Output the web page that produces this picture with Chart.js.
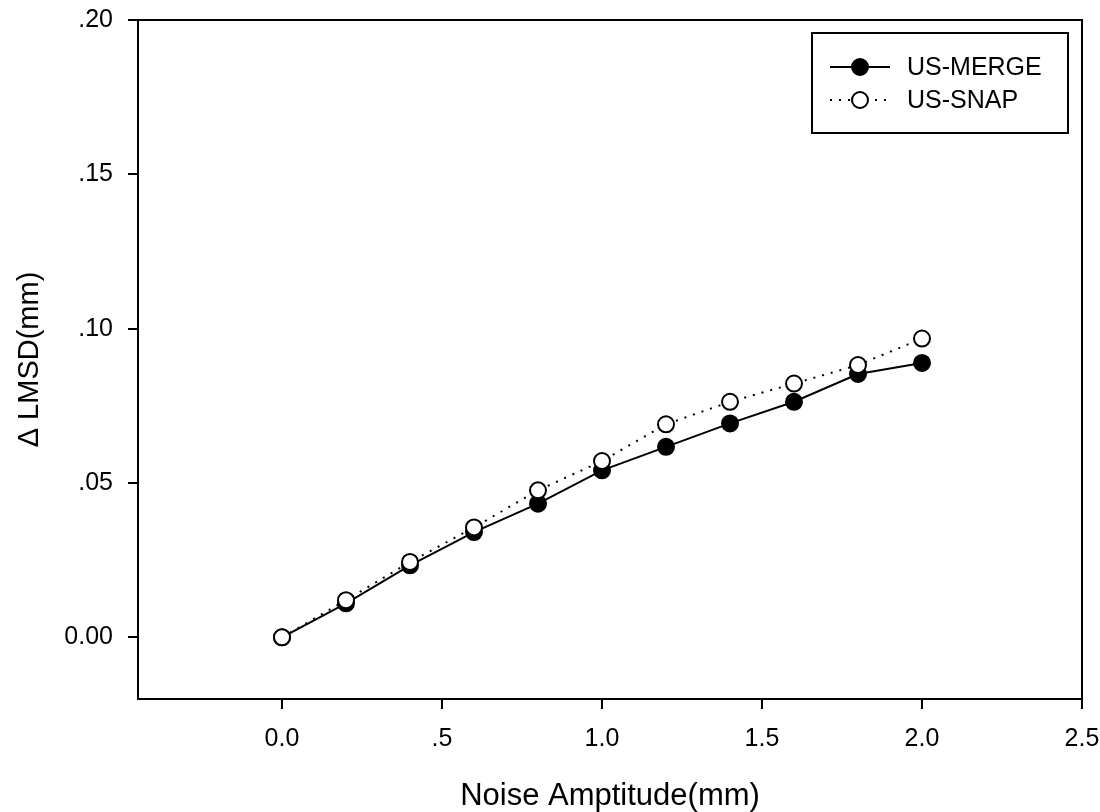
<!DOCTYPE html>
<html>
<head>
<meta charset="utf-8">
<script src="https://cdn.jsdelivr.net/npm/chart.js@4"></script>
<style>
  body { margin: 0; background: #fff; }
</style>
</head>
<body>
<canvas id="chart" width="1100" height="812"></canvas>
<script>
const noise = [0, 0.2, 0.4, 0.6, 0.8, 1.0, 1.2, 1.4, 1.6, 1.8, 2.0]
const usMerge = [0, 0.011, 0.0233, 0.0341, 0.0433, 0.0541, 0.0617, 0.0693, 0.0763, 0.0853, 0.0889]
const usSnap = [0, 0.012, 0.0244, 0.0356, 0.0476, 0.0571, 0.069, 0.0763, 0.0822, 0.0882, 0.0968]

const xTickVals = [0, 0.5, 1.0, 1.5, 2.0, 2.5]
const xTickLabels = ['0.0', '.5', '1.0', '1.5', '2.0', '2.5']
const yTickVals = [0, 0.05, 0.10, 0.15, 0.20]
const yTickLabels = ['0.00', '.05', '.10', '.15', '.20']

const FONT = 'Liberation Sans, Arial, sans-serif'
let ctx = document.getElementById('chart')

function pts(ys) {
    return noise.map((x, i) => ({ x: x, y: ys[i] }))
}

// box around the plot area plus the legend box
const framePlugin = {
    id: 'frame',
    afterDatasetsDraw(chart) {
        const c = chart.ctx
        const a = chart.chartArea
        c.save()
        c.strokeStyle = '#000'
        c.lineWidth = 2
        c.strokeRect(a.left, a.top, a.right - a.left, a.bottom - a.top)

        // legend
        c.strokeRect(812, 33, 256, 100)
        const rows = [67, 100]
        const order = [1, 0]
        order.forEach((di, r) => {
            const ds = chart.data.datasets[di]
            const y = rows[r]
            c.beginPath()
            c.setLineDash(ds.borderDash || [])
            c.lineWidth = ds.borderWidth
            c.moveTo(830, y)
            c.lineTo(890, y)
            c.stroke()
            c.setLineDash([])
            c.beginPath()
            c.arc(860, y, ds.pointRadius, 0, Math.PI * 2)
            c.fillStyle = ds.pointBackgroundColor
            c.fill()
            c.lineWidth = ds.pointBorderWidth
            c.stroke()
            c.fillStyle = '#000'
            c.font = '25px ' + FONT
            c.textBaseline = 'middle'
            c.textAlign = 'left'
            c.fillText(ds.label, 907, y + 1)
        })
        c.restore()
    }
}

new Chart(ctx, {
    type: 'scatter',
    data: {
        datasets: [{
            label: 'US-SNAP',
            data: pts(usSnap),
            showLine: true,
            borderColor: '#000',
            borderWidth: 2,
            borderDash: [2, 7],
            pointRadius: 8,
            pointBorderWidth: 2,
            pointBackgroundColor: '#fff',
            pointBorderColor: '#000',
            order: 0
        }, {
            label: 'US-MERGE',
            data: pts(usMerge),
            showLine: true,
            borderColor: '#000',
            borderWidth: 2,
            pointRadius: 8,
            pointBorderWidth: 2,
            pointBackgroundColor: '#000',
            pointBorderColor: '#000',
            order: 1
        }]
    },
    options: {
        responsive: false,
        animation: false,
        layout: { padding: { top: 20, right: 18, left: 0, bottom: 0 } },
        plugins: {
            legend: { display: false },
            tooltip: { enabled: false }
        },
        scales: {
            x: {
                type: 'linear',
                min: -0.45,
                max: 2.5,
                afterBuildTicks: (s) => { s.ticks = xTickVals.map(v => ({ value: v })) },
                afterFit: (s) => {
                    s.height = 113
                    s.paddingLeft = 0
                    s.paddingRight = 0
                },
                grid: { drawOnChartArea: false, tickLength: 10, color: '#000', lineWidth: 2 },
                border: { display: true, color: '#000', width: 2 },
                ticks: {
                    color: '#000',
                    font: { family: FONT, size: 25 },
                    padding: 15,
                    maxRotation: 0,
                    callback: (v, i) => xTickLabels[i]
                },
                title: {
                    display: true,
                    text: 'Noise Amptitude(mm)',
                    color: '#000',
                    font: { family: FONT, size: 31, lineHeight: 1 },
                    padding: { top: 0, bottom: 0 }
                }
            },
            y: {
                type: 'linear',
                min: -0.02,
                max: 0.20,
                afterBuildTicks: (s) => { s.ticks = yTickVals.map(v => ({ value: v })) },
                afterFit: (s) => {
                    s.width = 138
                    s.paddingTop = 0
                    s.paddingBottom = 0
                },
                grid: { drawOnChartArea: false, tickLength: 10, color: '#000', lineWidth: 2 },
                border: { display: true, color: '#000', width: 2 },
                ticks: {
                    color: '#000',
                    font: { family: FONT, size: 25 },
                    padding: 15,
                    callback: (v, i) => yTickLabels[i]
                },
                title: {
                    display: true,
                    text: 'Δ LMSD(mm)',
                    color: '#000',
                    font: { family: FONT, size: 29, lineHeight: 1 },
                    padding: { top: 15, bottom: 0 }
                }
            }
        }
    },
    plugins: [framePlugin]
})
</script>
</body>
</html>
